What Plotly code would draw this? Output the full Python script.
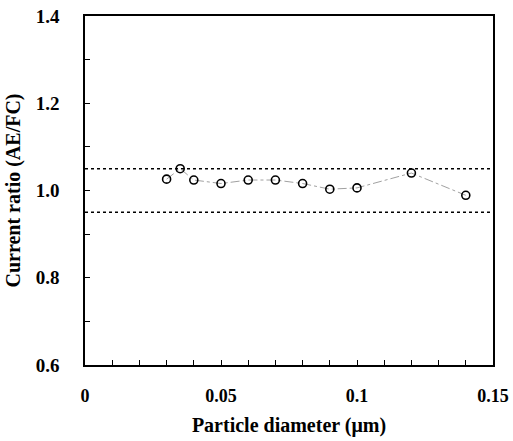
import plotly.graph_objects as go

diameter = [0.03, 0.035, 0.04, 0.05, 0.06, 0.07, 0.08, 0.09, 0.10, 0.12, 0.14]
ratio = [1.026, 1.050, 1.024, 1.016, 1.024, 1.024, 1.016, 1.003, 1.006, 1.040, 0.989]
band_x = [0.0, 0.15]
upper = [1.05, 1.05]
lower = [0.95, 0.95]
x_ticks = [0, 0.05, 0.1, 0.15]
x_labels = ["0", "0.05", "0.1", "0.15"]
y_ticks = [0.6, 0.8, 1.0, 1.2, 1.4]
y_labels = ["0.6", "0.8", "1.0", "1.2", "1.4"]

font = "Liberation Serif, Times New Roman, serif"

fig = go.Figure()
fig.add_trace(go.Scatter(x=band_x, y=upper, mode="lines",
                         line=dict(color="black", width=1.5, dash="dot"), hoverinfo="skip"))
fig.add_trace(go.Scatter(x=band_x, y=lower, mode="lines",
                         line=dict(color="black", width=1.5, dash="dot"), hoverinfo="skip"))
fig.add_trace(go.Scatter(x=diameter, y=ratio, mode="lines+markers",
                         line=dict(color="#888888", width=0.8, dash="dashdot"),
                         marker=dict(symbol="circle-open", size=8, color="black",
                                     line=dict(width=1.6, color="black"))))

fig.update_layout(
    width=513, height=441,
    margin=dict(l=85, r=20, t=16, b=76),
    paper_bgcolor="white", plot_bgcolor="white",
    showlegend=False,
    font=dict(family=font, color="black"),
)
fig.update_xaxes(
    range=[0, 0.15], tickvals=x_ticks, ticktext=x_labels,
    ticks="inside", ticklen=5, tickwidth=1, tickcolor="black",
    minor=dict(dtick=0.01, ticks="inside", ticklen=5, tickcolor="black"),
    showline=True, linecolor="black", linewidth=1.5, mirror=True,
    showgrid=False, zeroline=False, automargin=False,
    ticklabelstandoff=14, ticklabeloverflow="allow",
    tickfont=dict(family=font, size=18, color="black", weight="bold"),
    title=dict(text="Particle diameter (\u03bcm)", standoff=13,
               font=dict(family=font, size=20, color="black", weight="bold")),
)
fig.update_yaxes(
    range=[0.6, 1.4], tickvals=y_ticks, ticktext=y_labels,
    ticks="inside", ticklen=5, tickwidth=1, tickcolor="black",
    minor=dict(dtick=0.1, ticks="inside", ticklen=5, tickcolor="black"),
    showline=True, linecolor="black", linewidth=1.5, mirror=True,
    showgrid=False, zeroline=False, automargin=False,
    ticklabelstandoff=20, ticklabeloverflow="allow",
    tickfont=dict(family=font, size=19, color="black", weight="bold"),
    title=dict(text="Current ratio (AE/FC)", standoff=10,
               font=dict(family=font, size=20, color="black", weight="bold")),
)
fig.write_html("out.html", config={"displayModeBar": False},
               post_script="document.body.style.margin='0';")
